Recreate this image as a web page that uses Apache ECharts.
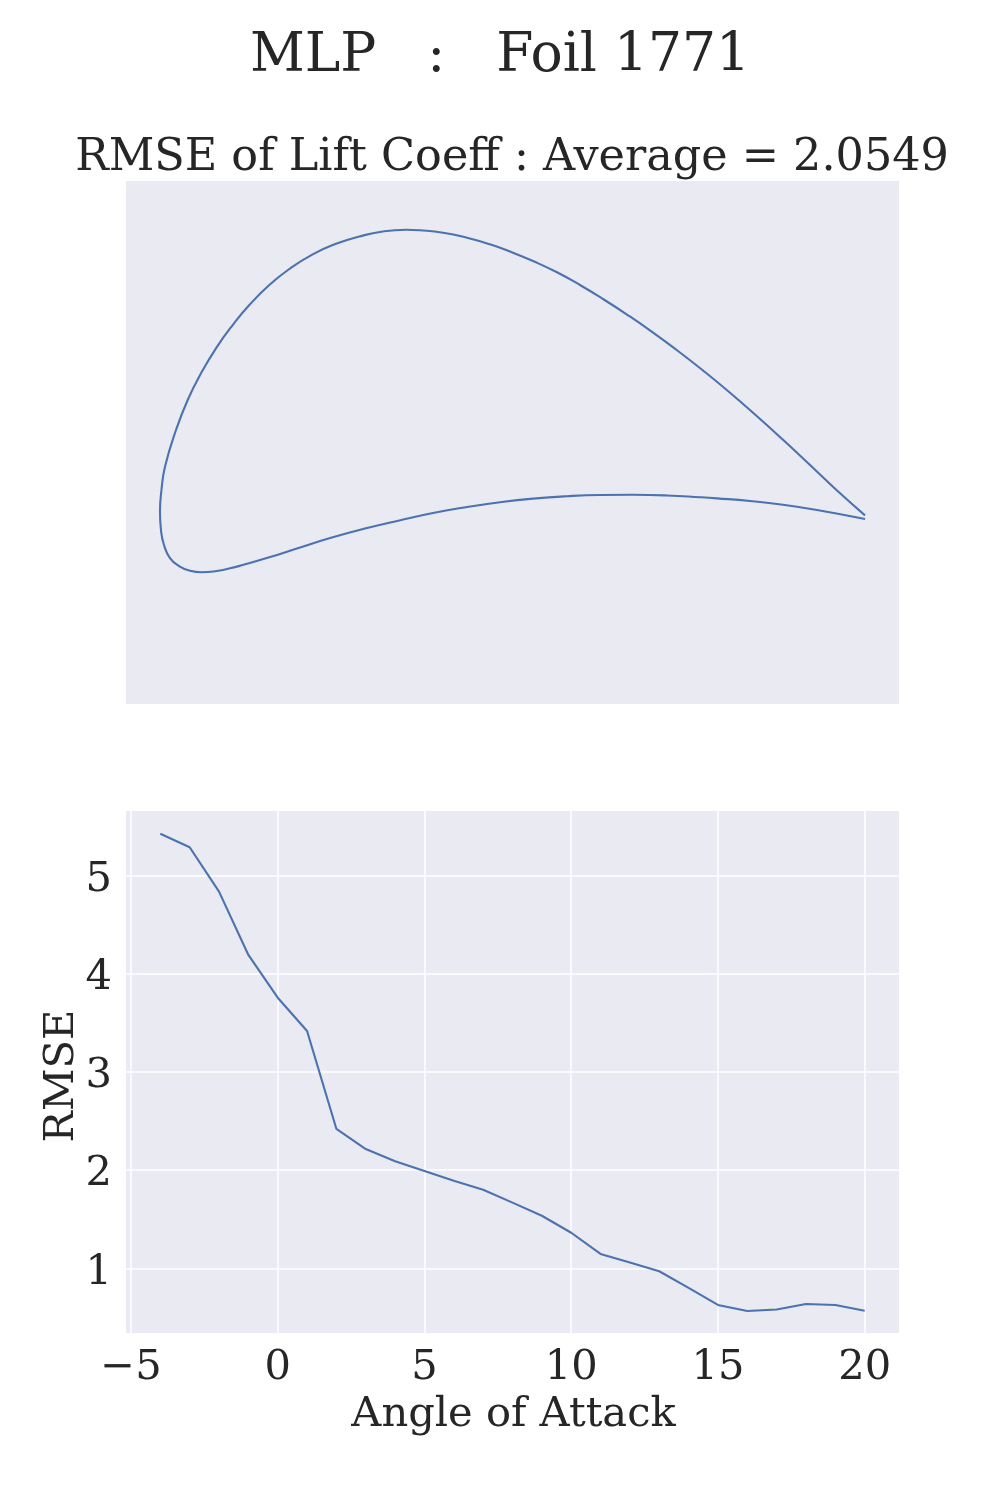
<!DOCTYPE html>
<html><head><meta charset="utf-8">
<style>html,body{margin:0;padding:0;background:#fff}#c{width:1000px;height:1500px}</style>
<script src="https://cdn.jsdelivr.net/npm/echarts@6/dist/echarts.min.js"></script>
</head><body><div id="c"></div>
<script>
const suptitle = 'MLP   :   Foil 1771';
const subtitle = 'RMSE of Lift Coeff : Average = 2.0549';
const foilX = [1.0,.9599,.9220,.8841,.8464,.8085,.7706,.7329,.6950,.6624,.6284,.5957,.5631,.5291,.5007,.4681,.4355,.4014,.3688,.3489,.3159,.2827,.2496,.2166,.1834,.1550,.1267,.1031,.0794,.0582,.0393,.0227,.0071,.0021,0,.0014,.0057,.0142,.0270,.0426,.0591,.0804,.0993,.1173,.1550,.1976,.2450,.2922,.3394,.3872,.4355,.4823,.5291,.5773,.6241,.6709,.7191,.7660,.7901,.8369,.8837,.9319,1.0];
const foilY = [.0024,.0380,.0738,.1092,.1433,.1763,.2075,.2369,.2648,.2872,.3092,.3291,.3471,.3631,.3749,.3868,.3962,.4033,.4067,.4075,.4050,.3979,.3875,.3726,.3518,.3291,.3007,.2723,.2393,.2038,.1660,.1234,.0713,.0383,.0075,-.0184,-.0397,-.0582,-.0695,-.0763,-.0784,-.0766,-.0728,-.0681,-.0572,-.0435,-.0288,-.0160,-.0048,.0057,.0142,.0210,.0261,.0295,.0312,.0315,.0306,.0281,.0265,.0227,.0174,.0099,-.0028];
const angles = [-4,-3,-2,-1,0,1,2,3,4,5,6,7,8,9,10,11,12,13,14,15,16,17,18,19,20];
const rmse = [5.423,5.285,4.833,4.189,3.754,3.415,2.418,2.214,2.09,1.99,1.89,1.80,1.668,1.535,1.362,1.146,1.06,0.97,0.80,0.627,0.565,0.58,0.637,0.627,0.568];
const xTicks = [-5,0,5,10,15,20];
const yTicks = [1,2,3,4,5];
const zip = (a,b)=>a.map((v,i)=>[v,b[i]]);
const FONT = 'DejaVu Serif', INK = '#262626', BG = '#EAEAF2', LINE = '#4C72B0';
const chart = echarts.init(document.getElementById('c'), null, {renderer:'canvas', width:1000, height:1500});
chart.setOption({
  animation:false, backgroundColor:'#fff',
  title:[
    {text:suptitle, left:'center', top:30, padding:0, textStyle:{fontFamily:FONT,fontWeight:'normal',fontSize:53.5,color:INK}},
    {text:subtitle, left:512, textAlign:'center', top:136, padding:0, textStyle:{fontFamily:FONT,fontWeight:'normal',fontSize:44.5,color:INK}}
  ],
  grid:[
    {left:126,top:181,width:773,height:523,backgroundColor:BG,show:true,borderWidth:0,outerBoundsMode:'none',containLabel:false},
    {left:126,top:811,width:773,height:522,backgroundColor:BG,show:true,borderWidth:0,outerBoundsMode:'none',containLabel:false}
  ],
  xAxis:[
    {gridIndex:0,type:'value',min:-0.0482,max:1.0482,show:false,splitLine:{show:false}},
    {gridIndex:1,type:'value',min:-5.17,max:21.17,
     name:'Angle of Attack',nameLocation:'middle',nameGap:61,
     nameTextStyle:{fontFamily:FONT,fontSize:41.6,color:INK,padding:[0,0,0,2]},
     axisLine:{show:false},axisTick:{show:false,customValues:xTicks},
     axisLabel:{fontFamily:FONT,fontSize:41.6,color:INK,margin:14,customValues:xTicks,
       formatter:v=>String(v).replace('-','\u2212')},
     splitLine:{show:true,lineStyle:{color:'#fff',width:1.5}}}
  ],
  yAxis:[
    {gridIndex:0,type:'value',min:-0.2652,max:0.4766,show:false,splitLine:{show:false}},
    {gridIndex:1,type:'value',min:0.3415,max:5.654,
     name:'RMSE',nameLocation:'middle',nameGap:43,nameMoveOverlap:false,
     nameTextStyle:{fontFamily:FONT,fontSize:41.6,color:INK,padding:[0,8,0,0]},
     axisLine:{show:false},axisTick:{show:false,customValues:yTicks},
     axisLabel:{fontFamily:FONT,fontSize:41.6,color:INK,margin:14,customValues:yTicks,
       formatter:v=>'{t|'+v+'}',
       rich:{t:{fontFamily:FONT,fontSize:41.6,color:INK,padding:[9,0,0,0]}}},
     splitLine:{show:true,lineStyle:{color:'#fff',width:1.5}}}
  ],
  series:[
    {type:'line',xAxisIndex:0,yAxisIndex:0,data:zip(foilX,foilY),showSymbol:false,smooth:0.5,lineStyle:{color:LINE,width:2.1}},
    {type:'line',xAxisIndex:1,yAxisIndex:1,data:zip(angles,rmse),showSymbol:false,lineStyle:{color:LINE,width:2.1}}
  ]
});
</script></body></html>
